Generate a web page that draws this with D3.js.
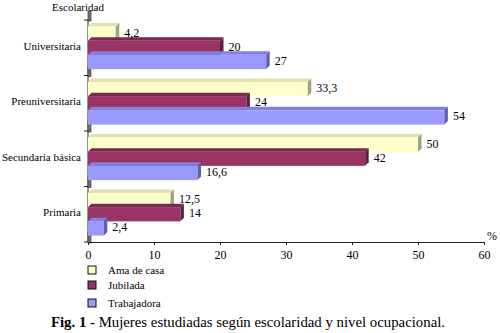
<!DOCTYPE html>
<html>
<head>
<meta charset="UTF-8">
<script src="https://d3js.org/d3.v7.min.js"></script>
</head>
<body style="margin:0">
<script>
  // data
  const categories = ["Universitaria", "Preuniversitaria", "Secundaria básica", "Primaria"]
  const seriesNames = ["Ama de casa", "Jubilada", "Trabajadora"]
  const amaDeCasa = [4.2, 33.3, 50, 12.5]
  const jubilada = [20, 24, 42, 14]
  const trabajadora = [27, 54, 16.6, 2.4]
  const xTicks = [0, 10, 20, 30, 40, 50, 60]

  const fills = ["#ffffcc", "#993366", "#9999ff"]
  const sides = ["#a3a37a", "#5e1f40", "#5f5fb0"]
  const tops = ["#e0e0b0", "#7a2a52", "#8080dd"]

  const series = [amaDeCasa, jubilada, trabajadora]
  const fmt = v => String(v).replace(".", ",")

  const width = 500, height = 333
  const margin = { top: 20, right: 16, bottom: 91, left: 88 }
  const depth = 3.5

  const svg = d3.select("body").append("svg")
      .attr("width", width)
      .attr("height", height)
      .style("font-family", "Liberation Serif")

  const xScale = d3.scaleLinear()
      .domain([0, 60])
      .range([margin.left, width - margin.right])
  const yScale = d3.scaleBand()
      .domain(categories)
      .range([margin.top, height - margin.bottom])
  const subScale = d3.scaleBand()
      .domain(d3.range(seriesNames.length))
      .range([0, yScale.bandwidth()])
      .paddingOuter(0.45)
      .paddingInner(0)

  // left wall pieces at band boundaries
  const bounds = categories.map(c => yScale(c)).concat([height - margin.bottom])
  svg.append("line")
      .attr("x1", margin.left).attr("x2", margin.left)
      .attr("y1", margin.top).attr("y2", height - margin.bottom)
      .attr("stroke", "#222")
  bounds.forEach(b => {
    svg.append("rect")
        .attr("x", margin.left).attr("y", b - 9)
        .attr("width", 3).attr("height", 10)
        .attr("fill", "#777").attr("stroke", "#222").attr("stroke-width", 0.6)
    svg.append("line")
        .attr("x1", margin.left - 4).attr("x2", margin.left)
        .attr("y1", b).attr("y2", b)
        .attr("stroke", "#222")
  })

  // bars with a little 3D
  const rows = []
  categories.forEach((c, i) => {
    series.forEach((s, k) => rows.push({ cat: c, k, v: s[i] }))
  })
  const g = svg.append("g")
  const labels = svg.append("g")
  rows.forEach(d => {
    const y = yScale(d.cat) + subScale(d.k)
    const h = subScale.bandwidth()
    const x0 = xScale(0), x1 = xScale(d.v)
    g.append("polygon")
        .attr("points", [[x0, y], [x0 + depth, y - depth], [x1 + depth, y - depth], [x1, y]].join(" "))
        .attr("fill", tops[d.k])
    g.append("rect")
        .attr("x", x0).attr("y", y)
        .attr("width", x1 - x0).attr("height", h)
        .attr("fill", fills[d.k])
    g.append("polygon")
        .attr("points", [[x1, y], [x1 + depth, y - depth], [x1 + depth, y + h - depth], [x1, y + h]].join(" "))
        .attr("fill", sides[d.k])
    labels.append("text")
        .attr("x", x1 + depth + 5)
        .attr("y", y + h / 2 + 3)
        .style("font-size", "12px")
        .text(fmt(d.v))
  })

  // x axis
  const xAxis = svg.append("g")
      .attr("transform", `translate(0, ${height - margin.bottom})`)
      .call(d3.axisBottom(xScale).tickValues(xTicks).tickSize(3).tickSizeOuter(0))
      .attr("font-family", null)
      .attr("font-size", null)
  xAxis.select(".domain").attr("stroke", "#222")
  xAxis.selectAll("line").attr("stroke", "#222")
  xAxis.selectAll("text").style("font-size", "12px").attr("dy", "0.9em")

  svg.append("text")
      .attr("x", xScale(60) + 3).attr("y", height - margin.bottom - 2)
      .style("font-size", "12px")
      .text("%")

  // category labels
  categories.forEach(c => {
    svg.append("text")
        .attr("x", margin.left - 7)
        .attr("y", yScale(c) + yScale.bandwidth() / 2 + 2)
        .attr("text-anchor", "end")
        .style("font-size", "11px")
        .text(c)
  })

  svg.append("text")
      .attr("x", 78).attr("y", 11)
      .attr("text-anchor", "middle")
      .style("font-size", "11px")
      .text("Escolaridad")

  // legend
  const legend = svg.append("g").attr("transform", "translate(88, 266)")
  seriesNames.forEach((n, i) => {
    const yy = [0, 15, 33][i]
    legend.append("rect")
        .attr("x", 0).attr("y", yy)
        .attr("width", 8).attr("height", 8)
        .attr("fill", fills[i]).attr("stroke", "#111")
    legend.append("text")
        .attr("x", 20).attr("y", yy + 8)
        .style("font-size", "11px")
        .text(n)
  })

  const cap = svg.append("text")
      .attr("x", 248).attr("y", 327)
      .attr("text-anchor", "middle")
      .style("font-size", "14.8px")
  cap.append("tspan").style("font-weight", "bold").text("Fig. 1 - ")
  cap.append("tspan").text("Mujeres estudiadas según escolaridad y nivel ocupacional.")

  svg.selectAll("text").style("font-family", "Liberation Serif").attr("fill", "#000")
</script>
</body>
</html>
